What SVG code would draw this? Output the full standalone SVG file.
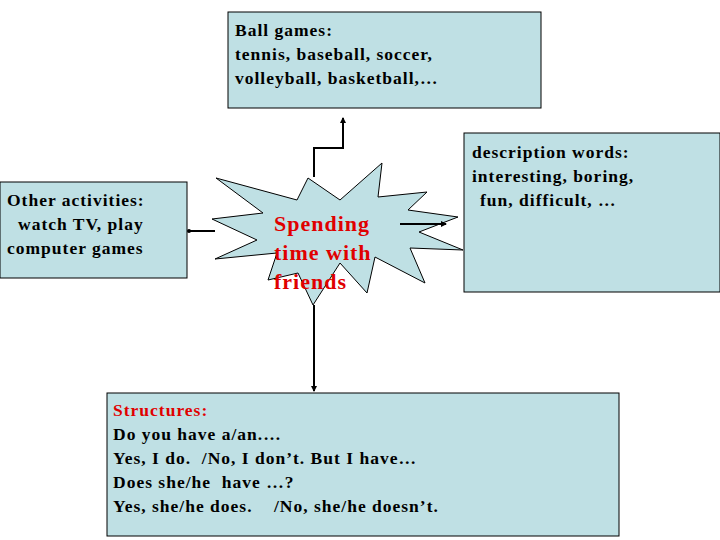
<svg xmlns="http://www.w3.org/2000/svg" width="720" height="540" viewBox="0 0 720 540">
<style>
.box{fill:#bfe0e4;stroke:#000;stroke-width:1}
.t{font-family:"Liberation Serif",serif;font-weight:bold;font-size:17.5px;letter-spacing:1px;fill:#000;white-space:pre}
.r{fill:#e00000}
.big{font-size:22px;letter-spacing:1px}
.c{fill:none;stroke:#000;stroke-width:2}
</style>
<defs><marker id="a" markerWidth="6" markerHeight="6" refX="5" refY="3" orient="auto" markerUnits="userSpaceOnUse"><path d="M0,0L6,3L0,6z" fill="#000"/></marker>
<marker id="d" markerWidth="5" markerHeight="5" refX="2.5" refY="2.5" markerUnits="userSpaceOnUse"><circle cx="2.5" cy="2.5" r="2" fill="#000"/></marker></defs>
<rect width="720" height="540" fill="#fff"/>
<g id="top"><rect class="box" x="228" y="12" width="313" height="96"/>
<text class="t" x="235" y="36">Ball games:</text><text class="t" x="235" y="60">tennis, baseball, soccer,</text><text class="t" x="235" y="84">volleyball, basketball,…</text></g>
<g id="left"><rect class="box" x="0" y="182" width="187" height="96"/>
<text class="t" x="7" y="206">Other activities:</text><text class="t" x="18" y="230">watch TV, play</text><text class="t" x="7" y="254">computer games</text></g>
<g id="right"><rect class="box" x="464" y="133" width="256" height="159"/>
<text class="t" x="472" y="158">description words:</text><text class="t" x="472" y="182">interesting, boring,</text><text class="t" x="480" y="206">fun, difficult, …</text></g>
<g id="bottom"><rect class="box" x="107" y="393" width="512" height="143"/>
<text class="t r" x="113" y="416">Structures:</text><text class="t" x="113" y="440">Do you have a/an.…</text><text class="t" x="113" y="464">Yes, I do.  /No, I don’t. But I have…</text><text class="t" x="113" y="488">Does she/he  have …?</text><text class="t" x="113" y="512">Yes, she/he does.    /No, she/he doesn’t.</text></g>
<g id="center"><polygon class="box" points="216,178 297,200 308,178 340,200 382,163 378,197 427,192 408,210 458,217 419,232 463,250 410,248 425,283 375,257 367,293 340,263 313,305 298,273 268,280 277,253 215,259 257,240 212,219 263,213"/>
<text class="t r big" x="274" y="231">Spending</text><text class="t r big" x="274" y="260">time with</text><text class="t r big" x="274" y="289">friends</text></g>
<g id="connectors">
<polyline class="c" points="314,177 314,148 343,148 343,118" marker-end="url(#a)"/>
<line class="c" x1="215" y1="231" x2="189" y2="231" marker-end="url(#d)"/>
<line class="c" x1="400" y1="224" x2="446" y2="224" marker-end="url(#a)"/>
<line class="c" x1="314" y1="305" x2="314" y2="391" marker-end="url(#a)"/>
</g>
</svg>
